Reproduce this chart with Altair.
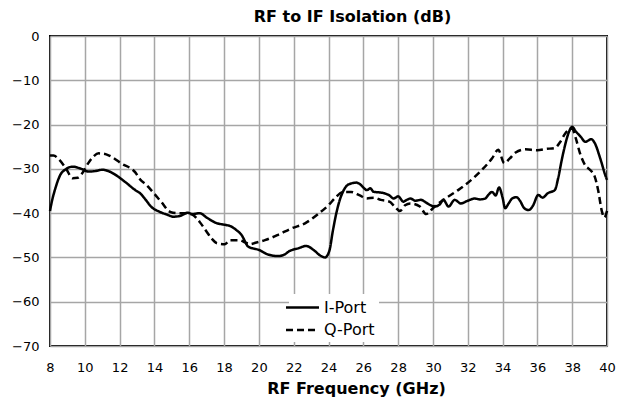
import altair as alt
import pandas as pd

freq_i = [8.0, 8.1, 8.3, 8.6, 8.9, 9.3, 9.8, 10.2, 10.6, 11.0, 11.2, 11.7, 12.3, 12.9, 13.2, 13.5, 13.8,
          14.3, 14.7, 15.1, 15.5, 15.9, 16.2, 16.6, 17.0, 17.6, 18.0, 18.4, 18.7, 19.0, 19.4, 20.0, 20.5,
          21.1, 21.5, 21.7, 22.3, 22.7, 23.2, 23.5, 23.8, 24.05, 24.25, 24.45, 24.65, 24.85, 25.05, 25.3,
          25.6, 25.85, 26.0, 26.2, 26.4, 26.6, 26.9, 27.2, 27.5, 27.75, 28.0, 28.3, 28.5, 28.7, 29.0, 29.3,
          29.6, 29.85, 30.1, 30.4, 30.6, 30.9, 31.25, 31.6, 32.0, 32.4, 32.7, 33.0, 33.2, 33.4, 33.6, 33.8,
          34.0, 34.15, 34.35, 34.55, 34.8, 35.0, 35.25, 35.5, 35.75, 36.05, 36.3, 36.6, 37.0, 37.2, 37.4,
          37.6, 37.8, 38.0, 38.2, 38.5, 38.75, 39.1, 39.3, 39.6, 39.9, 40.0]
iso_i = [-39.5, -37.5, -34.5, -31.3, -30.1, -29.5, -30.0, -30.6, -30.5, -30.2, -30.3, -31.2, -32.9, -34.8,
         -35.6, -37.0, -38.5, -39.7, -40.3, -40.8, -40.6, -39.9, -40.2, -40.0, -41.0, -42.3, -42.6, -43.0,
         -43.8, -44.9, -47.6, -48.3, -49.3, -49.7, -49.3, -48.7, -47.9, -47.4, -48.5, -49.5, -50.0, -48.5,
         -44.0, -40.0, -37.0, -35.0, -33.8, -33.3, -33.1, -33.6, -34.2, -34.8, -34.4, -35.2, -35.3, -35.5,
         -36.0, -36.7, -36.2, -37.4, -37.0, -36.7, -37.2, -37.0, -37.6, -38.2, -38.5, -38.0, -37.0, -38.5,
         -37.0, -37.8, -37.2, -36.7, -36.9, -36.7, -35.8, -35.2, -36.0, -34.2, -36.5, -38.9, -37.8, -36.7,
         -36.4, -37.2, -38.9, -39.3, -38.3, -35.9, -36.5, -35.5, -34.8, -32.0, -28.0, -24.5, -21.8, -20.5,
         -21.5, -22.8, -23.9, -23.3, -24.2, -27.5, -31.4, -32.5]

freq_q = [8.0, 8.2, 8.5, 8.9, 9.3, 9.6, 9.85, 10.2, 10.5, 10.8, 11.1, 11.4, 12.1, 12.9, 13.2, 13.5, 13.9,
          14.4, 14.9, 15.3, 15.7, 16.2, 16.6, 17.0, 17.3, 17.6, 18.05, 18.35, 18.9, 19.2, 19.5, 19.8, 20.35,
          21.1, 21.9, 22.65, 23.4, 24.0, 24.4, 24.85, 25.3, 25.8, 26.2, 26.6, 27.0, 27.5, 27.8, 28.1, 28.4,
          28.7, 29.25, 29.6, 30.1, 30.6, 31.45, 32.4, 33.4, 33.75, 34.1, 34.4, 34.75, 35.3, 36.0, 36.5, 37.0,
          37.3, 37.6, 38.0, 38.2, 38.45, 38.75, 39.05, 39.3, 39.5, 39.7, 39.85, 40.0]
iso_q = [-27.0, -27.0, -27.8, -29.8, -32.1, -32.0, -31.0, -28.7, -27.2, -26.5, -26.6, -27.0, -28.8, -30.8,
         -32.5, -33.5, -35.2, -37.5, -39.7, -40.0, -40.0, -40.4, -42.0, -44.2, -45.8, -46.8, -47.0, -46.1,
         -46.1, -46.6, -47.0, -46.7, -46.1, -44.9, -43.4, -42.3, -40.2, -38.2, -36.5, -35.2, -35.2, -36.0,
         -36.7, -36.5, -37.0, -37.4, -38.5, -39.5, -38.2, -37.8, -38.5, -40.2, -38.5, -37.0, -34.8, -31.8,
         -27.6, -25.7, -28.7, -27.7, -26.3, -25.6, -25.8, -25.5, -25.3, -24.0, -22.0, -20.9, -23.0, -26.5,
         -29.2, -30.3, -31.8, -35.0, -39.5, -41.0, -39.5]

series = ["I-Port", "Q-Port"]
x_ticks = list(range(8, 41, 2))
y_ticks = list(range(-70, 1, 10))

df = pd.concat([
    pd.DataFrame({"freq": freq_i, "iso": iso_i, "port": series[0]}),
    pd.DataFrame({"freq": freq_q, "iso": iso_q, "port": series[1]}),
])

font = "DejaVu Sans"

chart = alt.Chart(df).mark_line(strokeWidth=2.5, color="black", interpolate="monotone").encode(
    x=alt.X("freq:Q", scale=alt.Scale(domain=[8, 40], nice=False, zero=False),
            axis=alt.Axis(values=x_ticks, title="RF Frequency (GHz)", ticks=False, domain=False,
                          labelFontSize=13, labelFont=font, labelColor="black", labelPadding=15,
                          titleFontSize=16, titleFont=font, titleFontWeight="bold", titleColor="black",
                          titlePadding=6, titleX=306, titleAlign="center",
                          gridColor="#a6a6a6", gridWidth=1.5, labelFlush=False)),
    y=alt.Y("iso:Q", scale=alt.Scale(domain=[-70, 0], nice=False),
            axis=alt.Axis(values=y_ticks, title=None, ticks=False, domain=False,
                          labelFontSize=13, labelFont=font, labelColor="black", labelPadding=11,
                          gridColor="#a6a6a6", gridWidth=1.5, labelFlush=False)),
    strokeDash=alt.StrokeDash("port:N", scale=alt.Scale(domain=series, range=[[1, 0], [7, 4]]),
                              legend=alt.Legend(title=None, orient="none", legendX=239, legendY=258,
                                                fillColor="white", padding=4, symbolSize=272,
                                                symbolStrokeWidth=2.5, symbolStrokeColor="black",
                                                symbolType="M-2,0H2", labelFontSize=16, labelFont=font,
                                                labelColor="black", labelOffset=12, rowPadding=4.5)),
    detail="port:N",
).properties(
    width=557, height=310,
    title=alt.TitleParams("RF to IF Isolation (dB)", fontSize=16, font=font, fontWeight="bold",
                          color="black", dx=24, offset=5),
    autosize=alt.AutoSizeParams(type="none"),
    padding={"left": 42, "top": 28, "right": 20, "bottom": 55},
).configure_view(stroke="black", strokeWidth=2)

chart.save("out.html", embed_options={"renderer": "svg", "actions": False})
